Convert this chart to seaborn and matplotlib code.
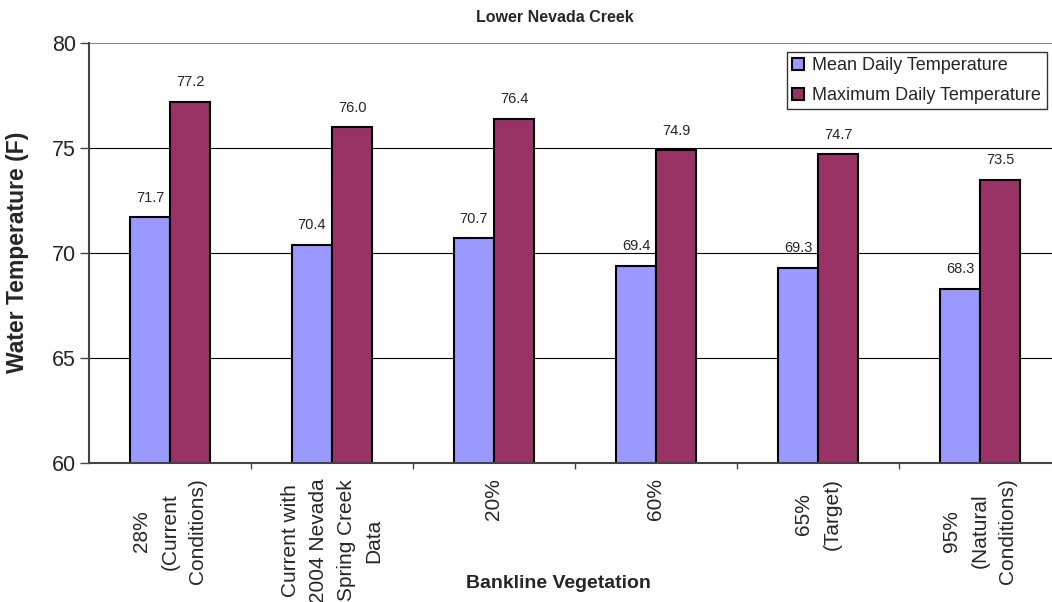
import matplotlib
matplotlib.use("Agg")
import matplotlib.pyplot as plt
import seaborn as sns
import pandas as pd
import numpy as np

categories = ["28%\n(Current\nConditions)",
              "Current with\n2004 Nevada\nSpring Creek\nData",
              "20%", "60%", "65%\n(Target)",
              "95%\n(Natural\nConditions)"]
mean_temp = [71.7, 70.4, 70.7, 69.4, 69.3, 68.3]
max_temp = [77.2, 76.0, 76.4, 74.9, 74.7, 73.5]
series_names = ["Mean Daily Temperature", "Maximum Daily Temperature"]
colors = ["#9999FF", "#993366"]
y_ticks = [60, 65, 70, 75, 80]

df = pd.DataFrame({
    "cat": categories * 2,
    "val": mean_temp + max_temp,
    "series": [series_names[0]] * len(categories) + [series_names[1]] * len(categories),
})

sns.set_style("white")
plt.rcParams['font.family'] = ['Liberation Sans', 'DejaVu Sans']

fig = plt.figure(figsize=(10.52, 6.02), dpi=100)
ax = fig.add_axes([89/1052, 1 - 463/602, 972/1052, (463 - 43)/602])

sns.barplot(data=df, x="cat", y="val", hue="series", palette=colors,
            width=0.494, edgecolor="black", linewidth=1.5, ax=ax,
            saturation=1, legend=True, errorbar=None)

ax.set_ylim(60, 80)
ax.set_xlim(-0.5, len(categories) - 0.5)
ax.set_yticks(y_ticks)
ax.set_yticklabels([str(t) for t in y_ticks], fontsize=15.5)
for t in y_ticks[1:-1]:
    ax.axhline(t, color="black", linewidth=0.8, zorder=0)
ax.axhline(80, color="#888888", linewidth=1.5, zorder=0)

for c in ax.containers:
    ax.bar_label(c, labels=[f"{v:.1f}" for v in c.datavalues], padding=9, fontsize=10.5)

ax.set_xticks(range(len(categories)))
ax.set_xticklabels(categories, rotation=90, fontsize=15, va="top", ha="center",
                   multialignment="center", linespacing=1.6)
ax.tick_params(axis="x", length=0, pad=11)
ax.set_xticks(np.arange(0.5, len(categories) - 0.5, 1), minor=True)
ax.tick_params(axis="x", which="minor", length=4.5, color="#444444", width=1, direction="out", bottom=True)
ax.tick_params(axis="y", length=6.5, color="#444444", width=1, direction="out", left=True, pad=3)

for s in ["top", "right"]:
    ax.spines[s].set_visible(False)
ax.spines["left"].set_color("#444444")
ax.spines["left"].set_linewidth(1.5)
ax.spines["bottom"].set_color("#444444")
ax.spines["bottom"].set_linewidth(1.5)

ax.set_xlabel("")
ax.set_ylabel("")
fig.text(18/1052, 1 - 252/602, "Water Temperature (F)", rotation=90, fontsize=16.5,
         fontweight="bold", ha="center", va="center")
fig.text(558/1052, 1 - 583/602, "Bankline Vegetation", fontsize=14,
         fontweight="bold", ha="center", va="center")
fig.text(555/1052, 1 - 18/602, "Lower Nevada Creek", fontsize=11.5,
         fontweight="bold", ha="center", va="center")

handles, labels = ax.get_legend_handles_labels()
leg = ax.legend(handles, labels, loc="upper left",
                bbox_to_anchor=(787/1052, 1 - 52/602), bbox_transform=fig.transFigure,
                frameon=True, fancybox=False, fontsize=13, handlelength=0.65,
                handleheight=0.65, handletextpad=0.45, borderpad=0.3, labelspacing=0.7,
                borderaxespad=0)
leg.get_frame().set_edgecolor("black")
leg.get_frame().set_linewidth(1)

fig.savefig("out.png", dpi=100)
